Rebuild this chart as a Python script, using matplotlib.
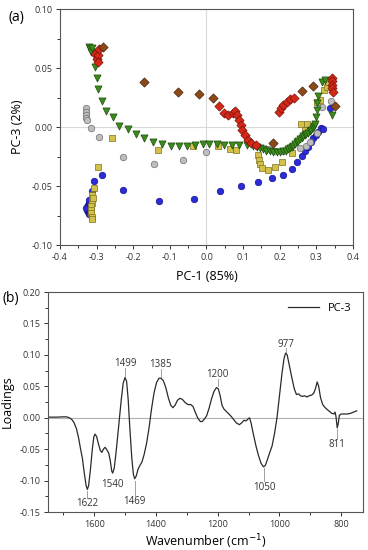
import numpy as np
import matplotlib
matplotlib.use('Agg')
import matplotlib.pyplot as plt
from matplotlib.ticker import MultipleLocator, FormatStrFormatter

plt.rcParams['font.family'] = ['Open Sans', 'DejaVu Sans']

# ---- (a) PCA scores: PC-1 vs PC-3 ----
blue_x = [-0.322, -0.324, -0.325, -0.325, -0.324, -0.322, -0.320, -0.318, -0.328, -0.320,
          -0.313, -0.306, -0.286, -0.227, -0.130, -0.033, 0.037, 0.094, 0.141, 0.178,
          0.208, 0.233, 0.248, 0.260, 0.269, 0.278, 0.285, 0.292, 0.299, 0.305, 0.312, 0.317, 0.337]
blue_y = [-0.064, -0.066, -0.068, -0.070, -0.072, -0.074, -0.067, -0.071, -0.069, -0.062,
          -0.054, -0.0455, -0.041, -0.053, -0.0624, -0.061, -0.054, -0.0497, -0.0466, -0.0435,
          -0.0407, -0.0356, -0.030, -0.0246, -0.020, -0.0167, -0.0124, -0.0096, -0.0068, -0.004, -0.001, -0.002, 0.016]

gray_x = [-0.328, -0.329, -0.329, -0.328, -0.326, -0.316, -0.293, -0.229, -0.143, -0.063, 0.0,
          0.167, 0.187, 0.208, 0.255, 0.272, 0.284, 0.301, 0.315, 0.340]
gray_y = [0.016, 0.013, 0.010, 0.008, 0.006, -0.0006, -0.0088, -0.0254, -0.0316, -0.0282, -0.0212,
          -0.0186, -0.020, -0.0203, -0.018, -0.0158, -0.0124, -0.0054, 0.017, 0.022]

yellow_x = [-0.312, -0.313, -0.313, -0.314, -0.314, -0.314, -0.313, -0.312, -0.309, -0.306, -0.295,
            -0.257, -0.132, -0.036, 0.032, 0.064, 0.082, 0.1415, 0.143, 0.146, 0.151, 0.169,
            0.187, 0.205, 0.233, 0.257, 0.269, 0.275, 0.301, 0.310, 0.321, 0.328, 0.331]
yellow_y = [-0.058, -0.061, -0.064, -0.067, -0.070, -0.073, -0.076, -0.078, -0.0604, -0.0514, -0.034,
            -0.0096, -0.0195, -0.0158, -0.0158, -0.019, -0.0195, -0.0237, -0.028, -0.0314, -0.0345, -0.036,
            -0.0336, -0.030, -0.0223, 0.0025, -0.0025, 0.003, 0.0215, 0.0229, 0.031, 0.034, 0.038]

green_x = [-0.320, -0.318, -0.316, -0.313, -0.304, -0.300, -0.295, -0.284, -0.273, -0.256, -0.238,
           -0.215, -0.193, -0.171, -0.147, -0.122, -0.098, -0.074, -0.052, -0.031, -0.010, 0.008,
           0.028, 0.048, 0.069, 0.090, 0.110, 0.128, 0.137, 0.146, 0.155, 0.164, 0.173, 0.182,
           0.192, 0.201, 0.209, 0.217, 0.223, 0.228, 0.233, 0.237, 0.242, 0.246, 0.251, 0.255,
           0.260, 0.264, 0.269, 0.273, 0.278, 0.282, 0.286, 0.290, 0.293, 0.296, 0.299, 0.301,
           0.302, 0.305, 0.315, 0.323, 0.342]
green_y = [0.068, 0.066, 0.064, 0.067, 0.051, 0.042, 0.032, 0.022, 0.0138, 0.0082, 0.0008,
           -0.002, -0.0062, -0.0096, -0.013, -0.0147, -0.0158, -0.016, -0.0158, -0.0155, -0.0147, -0.0144,
           -0.0147, -0.015, -0.015, -0.0153, -0.0155, -0.016, -0.017, -0.018, -0.019, -0.020, -0.0205, -0.021,
           -0.021, -0.021, -0.0205, -0.020, -0.019, -0.018, -0.017, -0.016, -0.0145, -0.013, -0.012, -0.0105,
           -0.009, -0.008, -0.007, -0.006, -0.005, -0.0037, -0.0025, -0.001, 0.001, 0.003, 0.0088, 0.0144,
           0.020, 0.026, 0.038, 0.040, 0.010]

red_x = [-0.305, -0.300, -0.297, -0.296, -0.293, 0.035, 0.0487, 0.0596, 0.0715, 0.078, 0.084,
         0.0887, 0.0933, 0.098, 0.105, 0.114, 0.123, 0.135, 0.198, 0.2034, 0.2097, 0.219, 0.228,
         0.239, 0.342, 0.342, 0.343, 0.344, 0.345]
red_y = [0.062, 0.058, 0.061, 0.055, 0.066, 0.0178, 0.0121, 0.0102, 0.0116, 0.0133, 0.0102,
         0.0059, 0.0017, -0.0026, -0.0070, -0.0110, -0.0138, -0.0153, 0.0131, 0.016, 0.0186, 0.0215, 0.0234,
         0.025, 0.042, 0.039, 0.036, 0.033, 0.030]

brown_x = [-0.2835, -0.170, -0.079, -0.0196, 0.0187, 0.181, 0.260, 0.292, 0.351]
brown_y = [0.068, 0.0384, 0.030, 0.0277, 0.0249, -0.0138, 0.0305, 0.035, 0.0178]

# ---- (b) PC-3 loadings ----
wavenumber = [1750, 1720, 1700, 1690, 1680, 1672, 1665, 1657, 1650, 1645, 1638, 1632, 1626, 1622,
              1618, 1612, 1606, 1601, 1597, 1592, 1586, 1580, 1575, 1570, 1565, 1560, 1553, 1548,
              1543, 1540, 1535, 1528, 1520, 1512, 1506, 1500, 1495, 1490, 1484, 1478, 1473, 1469,
              1464, 1458, 1452, 1445, 1438, 1430, 1422, 1414, 1406, 1398, 1390, 1384, 1376, 1368,
              1360, 1352, 1345, 1338, 1330, 1322, 1314, 1305, 1296, 1287, 1280, 1272, 1264, 1256,
              1250, 1243, 1236, 1228, 1220, 1212, 1204, 1198, 1192, 1186, 1180, 1172, 1164, 1156,
              1148, 1140, 1130, 1122, 1115, 1108, 1102, 1097, 1092, 1085, 1076, 1068, 1060, 1052,
              1046, 1040, 1032, 1024, 1016, 1008, 1000, 992, 985, 980, 975, 968, 960, 952, 945,
              938, 932, 925, 918, 911, 904, 896, 889, 883, 878, 873, 867, 860, 852, 845, 838, 830,
              824, 820, 817, 813, 810, 806, 800, 790, 780, 770, 760, 750]
loading = [0.001, 0.001, 0.0015, 0.0015, 0.0, -0.003, -0.008, -0.018, -0.033, -0.047, -0.065, -0.088,
           -0.108, -0.114, -0.108, -0.082, -0.050, -0.030, -0.026, -0.030, -0.042, -0.052, -0.055, -0.050,
           -0.047, -0.050, -0.056, -0.068, -0.085, -0.088, -0.080, -0.050, -0.010, 0.030, 0.055, 0.064,
           0.058, 0.030, -0.020, -0.065, -0.090, -0.097, -0.093, -0.082, -0.076, -0.070, -0.058, -0.040,
           -0.015, 0.015, 0.040, 0.056, 0.063, 0.063, 0.059, 0.048, 0.032, 0.020, 0.016, 0.020, 0.028,
           0.031, 0.029, 0.024, 0.021, 0.021, 0.018, 0.008, -0.001, -0.006, -0.006, -0.002, 0.003, 0.015,
           0.030, 0.042, 0.048, 0.046, 0.035, 0.020, 0.014, 0.010, 0.006, 0.002, -0.003, -0.008, -0.011,
           -0.008, -0.004, -0.005, -0.002, 0.0, -0.008, -0.025, -0.045, -0.060, -0.072, -0.078, -0.076,
           -0.068, -0.056, -0.045, -0.025, 0.0, 0.035, 0.070, 0.095, 0.103, 0.100, 0.083, 0.064, 0.046,
           0.037, 0.038, 0.035, 0.034, 0.035, 0.033, 0.035, 0.036, 0.039, 0.047, 0.057, 0.050, 0.032,
           0.021, 0.016, 0.013, 0.010, 0.007, 0.006, 0.009, 0.002, -0.016, -0.010, 0.004, 0.006, 0.006,
           0.006, 0.007, 0.009, 0.011]

peak_labels = ['1622', '1540', '1499', '1469', '1385', '1200', '1050', '977', '811']
peak_pos = [1622, 1540, 1499, 1469, 1385, 1200, 1050, 980, 813]
label_y = [-0.136, -0.106, 0.087, -0.133, 0.085, 0.069, -0.111, 0.117, -0.043]
lead_from = [-0.117, None, 0.067, -0.100, 0.065, 0.050, -0.080, 0.105, -0.018]
lead_to = [-0.127, None, 0.079, -0.124, 0.077, 0.061, -0.101, 0.111, -0.034]

fig = plt.figure(figsize=(3.68, 5.5), dpi=100)

ax1 = fig.add_axes([0.163, 0.5545, 0.796, 0.429])
ax1.axhline(0, color='#d9d9d9', lw=0.8, zorder=0)
ax1.axvline(0, color='#d9d9d9', lw=0.8, zorder=0)
ms = 22
ax1.scatter(blue_x, blue_y, s=ms, marker='o', c='#2b2bd8', edgecolors='#14148a', linewidths=0.5, zorder=3)
ax1.scatter(gray_x, gray_y, s=ms, marker='o', c='#bdbdbd', edgecolors='#6f6f6f', linewidths=0.5, zorder=3)
ax1.scatter(yellow_x, yellow_y, s=ms, marker='s', c='#d2c24a', edgecolors='#7f7020', linewidths=0.5, zorder=4)
ax1.scatter(green_x, green_y, s=ms + 4, marker='v', c='#3c8c1c', edgecolors='#1c4a0c', linewidths=0.5, zorder=5)
ax1.scatter(red_x, red_y, s=ms, marker='D', c='#d42818', edgecolors='#7a1008', linewidths=0.5, zorder=6)
ax1.scatter(brown_x, brown_y, s=ms, marker='D', c='#8b4a18', edgecolors='#4a2008', linewidths=0.5, zorder=6)
ax1.set_xlim(-0.4, 0.4)
ax1.set_ylim(-0.10, 0.10)
ax1.xaxis.set_major_locator(MultipleLocator(0.1))
ax1.xaxis.set_minor_locator(MultipleLocator(0.05))
ax1.yaxis.set_major_locator(MultipleLocator(0.05))
ax1.yaxis.set_minor_locator(MultipleLocator(0.025))
ax1.xaxis.set_major_formatter(FormatStrFormatter('%.1f'))
ax1.yaxis.set_major_formatter(FormatStrFormatter('%.2f'))
ax1.set_xlabel('PC-1 (85%)', fontsize=9, labelpad=6)
ax1.set_ylabel('PC-3 (2%)', fontsize=9, labelpad=5)
fig.text(0.022, 0.969, '(a)', fontsize=10, va='center')

ax2 = fig.add_axes([0.130, 0.069, 0.856, 0.4])
ax2.axhline(0, color='#b0b0b0', lw=0.8, zorder=0)
ax2.plot(wavenumber, loading, color='#2a2a2a', lw=0.9, label='PC-3')
for lab, xp, ly, l0, l1 in zip(peak_labels, peak_pos, label_y, lead_from, lead_to):
    if l0 is not None:
        ax2.plot([xp, xp], [l0, l1], color='#a0a0a0', lw=0.7)
    ax2.text(xp, ly, lab, fontsize=7, ha='center', va='center', color='#333333')
ax2.set_xlim(1750, 730)
ax2.set_ylim(-0.15, 0.20)
ax2.xaxis.set_major_locator(MultipleLocator(200))
ax2.xaxis.set_minor_locator(MultipleLocator(100))
ax2.yaxis.set_major_locator(MultipleLocator(0.05))
ax2.yaxis.set_minor_locator(MultipleLocator(0.025))
ax2.yaxis.set_major_formatter(FormatStrFormatter('%.2f'))
ax2.set_xlabel('Wavenumber (cm$^{-1}$)', fontsize=9, labelpad=3)
ax2.set_ylabel('Loadings', fontsize=9, labelpad=4)
ax2.legend(loc='upper right', frameon=False, fontsize=8, handlelength=2.8, borderaxespad=0.6)
fig.text(0.008, 0.458, '(b)', fontsize=10, va='center')

for ax in (ax1, ax2):
    for sp in ax.spines.values():
        sp.set_color('#555555')
        sp.set_linewidth(0.8)
    ax.tick_params(which='both', direction='out', top=False, right=False, labelsize=6.5,
                   colors='#333333', width=0.7, pad=2.5)
    ax.tick_params(which='major', length=3)
    ax.tick_params(which='minor', length=2)

fig.savefig('out.png', dpi=100)
